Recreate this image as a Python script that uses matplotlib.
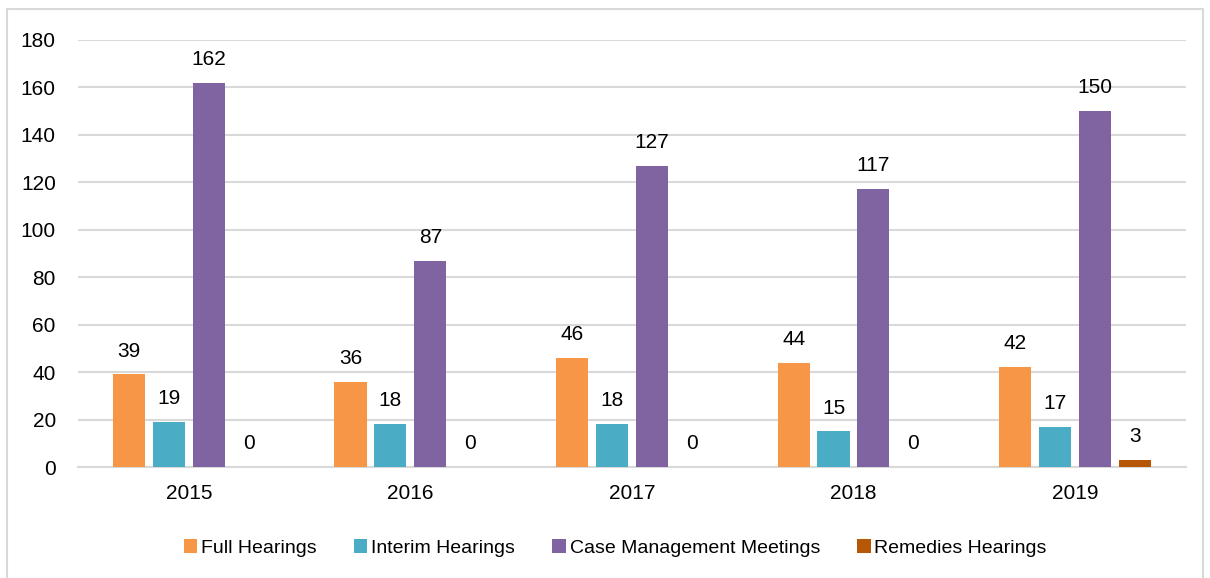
import matplotlib
matplotlib.use("Agg")
import matplotlib.pyplot as plt
import numpy as np
from matplotlib.patches import Rectangle

years = ["2015", "2016", "2017", "2018", "2019"]
full_hearings = [39, 36, 46, 44, 42]
interim_hearings = [19, 18, 18, 15, 17]
case_mgmt = [162, 87, 127, 117, 150]
remedies = [0, 0, 0, 0, 3]

series = [
    ("Full Hearings", full_hearings, "#F79646"),
    ("Interim Hearings", interim_hearings, "#4BACC6"),
    ("Case Management Meetings", case_mgmt, "#8064A2"),
    ("Remedies Hearings", remedies, "#B65708"),
]

plt.rcParams["font.family"] = ["Liberation Sans", "DejaVu Sans"]
FS = 14

fig = plt.figure(figsize=(12.1, 5.78), dpi=100)
ax = fig.add_axes([0.0645, 0.192, 0.9155, 0.739])

# outer chart border (runs off the bottom edge like the original)
fig.patches.append(Rectangle((7 / 1210, -10 / 578), 1196 / 1210, 579 / 578,
                             transform=fig.transFigure, fill=False,
                             edgecolor="#D9D9D9", linewidth=1.5))

x = np.arange(len(years))
step, w = 0.18, 0.145
for i, (name, vals, col) in enumerate(series):
    pos = x + (i - 1.5) * step
    ax.bar(pos, vals, w, color=col, label=name, zorder=3)
    for p, v in zip(pos, vals):
        ax.annotate(str(v), (p, v), xytext=(0, 10), textcoords="offset points",
                    ha="center", va="bottom", fontsize=FS + 1)

ax.set_xlim(-0.5, 4.5)
ax.set_ylim(0, 180)
ax.set_yticks(range(0, 181, 20))
ax.set_xticks(x)
ax.set_xticklabels(years)
ax.tick_params(axis="both", length=0, labelsize=FS + 1, colors="black")
ax.tick_params(axis="y", pad=16)
ax.tick_params(axis="x", pad=12)
ax.grid(axis="y", color="#D9D9D9", linewidth=1.5, zorder=0)
for s in ["top", "right", "left"]:
    ax.spines[s].set_visible(False)
ax.spines["bottom"].set_color("#D9D9D9")
ax.spines["bottom"].set_linewidth(1.5)

ax.legend(loc="center", bbox_to_anchor=(0.485, -0.19), ncol=4, frameon=False,
          fontsize=FS, handlelength=0.7, handleheight=0.7, handletextpad=0.2,
          columnspacing=1.9)

fig.savefig("out.png", dpi=100)
